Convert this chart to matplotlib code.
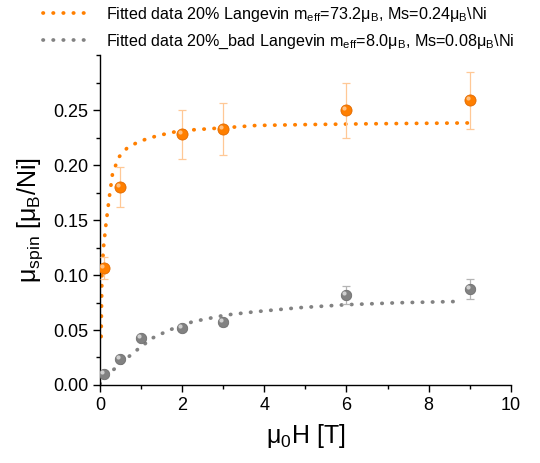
import matplotlib

matplotlib.use("Agg")
import matplotlib.pyplot as plt
from matplotlib.ticker import MultipleLocator, FormatStrFormatter
from matplotlib.transforms import offset_copy

plt.rcParams["font.family"] = ["Liberation Sans", "DejaVu Sans"]
plt.rcParams["mathtext.fontset"] = "custom"
plt.rcParams["mathtext.rm"] = "Liberation Sans"
plt.rcParams["mathtext.it"] = "Liberation Sans:italic"

field_20 = [0.1, 0.5, 2, 3, 6, 9]
spin_20 = [0.106, 0.180, 0.228, 0.233, 0.250, 0.259]
err_20 = [0.010, 0.018, 0.0225, 0.0235, 0.025, 0.026]

field_bad = [0.1, 0.5, 1, 2, 3, 6, 9]
spin_bad = [0.010, 0.024, 0.043, 0.052, 0.057, 0.082, 0.087]
err_bad = [0.002, 0.002, 0.002, 0.003, 0.003, 0.008, 0.009]

# fitted Langevin curves, sampled from the plotted dotted lines
fit_x_20 = [0.03, 0.05, 0.09, 0.15, 0.23, 0.31, 0.47, 0.65, 0.88, 1.15,
            1.44, 1.8, 2.25, 3.06, 3.8, 5.0, 6.5, 8.0, 9.0]
fit_y_20 = [0.044, 0.102, 0.126, 0.147, 0.171, 0.193, 0.2076, 0.215, 0.220, 0.224,
            0.227, 0.230, 0.232, 0.234, 0.236, 0.2368, 0.2375, 0.238, 0.2383]

fit_x_bad = [0.0, 0.23, 0.47, 0.71, 0.96, 1.28, 1.69, 2.26, 3.06, 3.8,
             4.85, 5.99, 7.28, 8.78]
fit_y_bad = [0.001, 0.011, 0.018, 0.026, 0.0336, 0.0427, 0.050, 0.0576, 0.0636, 0.0667,
             0.0703, 0.073, 0.0748, 0.076]

ORANGE = "#ff7f00"
GREY = "#828282"

fig = plt.figure(figsize=(5.4, 4.63), dpi=100)
ax = fig.add_axes([0.185, 0.1685, 0.761, 0.7125])

dots = (0, (0.1, 2.6))
ax.plot(fit_x_20, fit_y_20, color=ORANGE, lw=2.7, linestyle=dots,
        dash_capstyle="round",
        label="Fitted data 20% Langevin m$_{\\rm eff}$=73.2μ$_{\\rm B}$, Ms=0.24μ$_{\\rm B}$\\Ni")
ax.plot(fit_x_bad, fit_y_bad, color=GREY, lw=2.7, linestyle=dots,
        dash_capstyle="round",
        label="Fitted data 20%_bad Langevin m$_{\\rm eff}$=8.0μ$_{\\rm B}$, Ms=0.08μ$_{\\rm B}$\\Ni")

ax.errorbar(field_20, spin_20, yerr=err_20, fmt="none", ecolor="#ffc896",
            elinewidth=0.9, capsize=3, capthick=0.9, zorder=3)
ax.errorbar(field_bad, spin_bad, yerr=err_bad, fmt="none", ecolor="#b4b4b4",
            elinewidth=0.9, capsize=3, capthick=0.9, zorder=3)

# shaded balls: base marker plus a small highlight shifted up-left
ax.plot(field_20, spin_20, "o", ms=8, color=ORANGE, mec="#e06a00", mew=0.6, zorder=4)
ax.plot(field_bad, spin_bad, "o", ms=7.5, color=GREY, mec="#6e6e6e", mew=0.6, zorder=4)
shift = offset_copy(ax.transData, fig=fig, x=-1.5, y=1.5, units="points")
ax.plot(field_20, spin_20, "o", ms=3, color="#ffc080", mec="none",
        transform=shift, zorder=5)
ax.plot(field_bad, spin_bad, "o", ms=3, color="#d0d0d0", mec="none",
        transform=shift, zorder=5)

ax.set_xlim(0, 10)
ax.set_ylim(0, 0.30)
ax.xaxis.set_major_locator(MultipleLocator(2))
ax.xaxis.set_minor_locator(MultipleLocator(1))
ax.yaxis.set_major_locator(MultipleLocator(0.05))
ax.yaxis.set_minor_locator(MultipleLocator(0.025))
ax.yaxis.set_major_formatter(FormatStrFormatter("%.2f"))
ax.set_yticks([0, 0.05, 0.10, 0.15, 0.20, 0.25])

for side in ("top", "right"):
    ax.spines[side].set_visible(False)
for side in ("left", "bottom"):
    ax.spines[side].set_linewidth(1.0)
ax.tick_params(which="major", length=5, width=1.0, labelsize=13, direction="out")
ax.tick_params(which="minor", length=3, width=1.0, direction="out")

ax.set_xlabel("μ$_{\\rm 0}$H [T]", fontsize=18, labelpad=6)
ax.set_ylabel("μ$_{\\rm spin}$ [μ$_{\\rm B}$/Ni]", fontsize=18, labelpad=6)

ax.legend(loc="upper left", bbox_to_anchor=(0.08, 0.99), bbox_transform=fig.transFigure,
          frameon=False, fontsize=11.6, handlelength=2.8, handletextpad=1.1,
          borderpad=0, borderaxespad=0, labelspacing=0.55)

fig.savefig("out.png", dpi=100)
